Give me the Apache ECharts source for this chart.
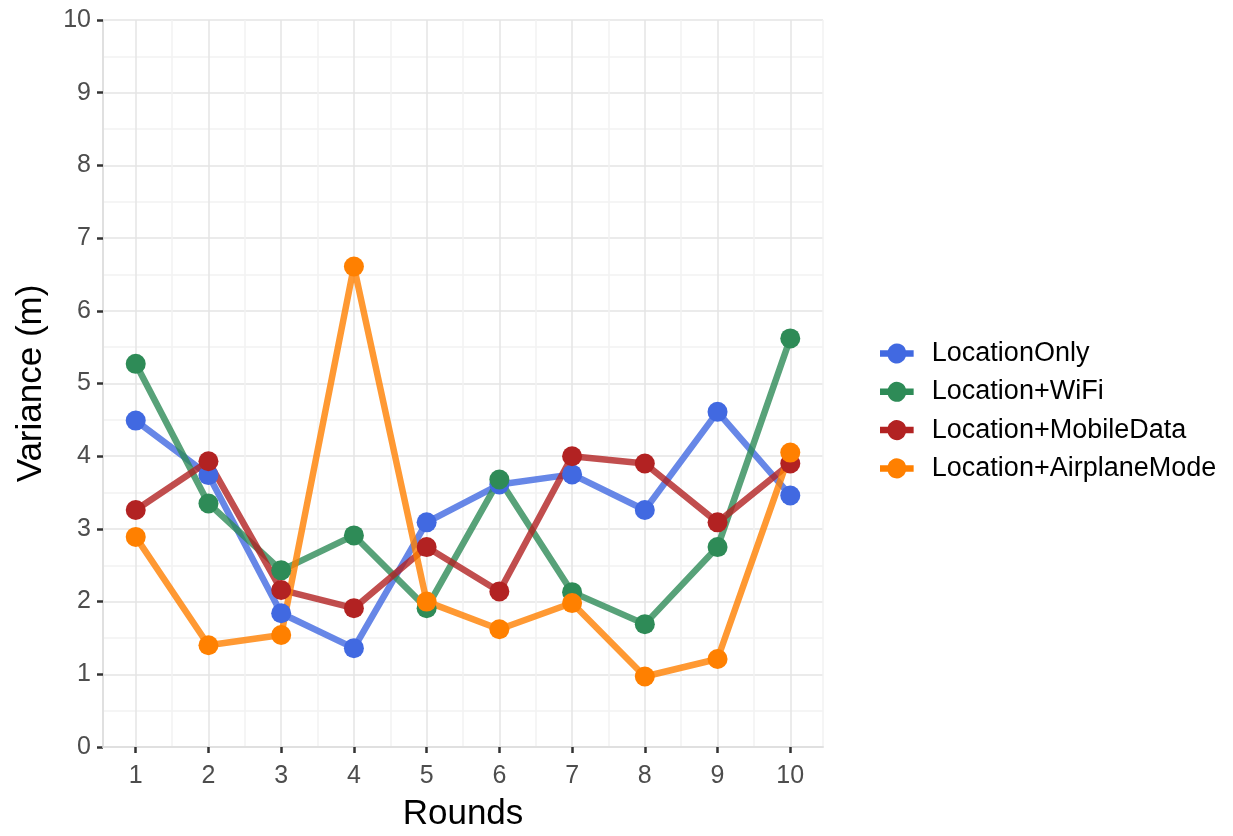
<!DOCTYPE html>
<html>
<head>
<meta charset="utf-8">
<script src="https://cdn.jsdelivr.net/npm/echarts@6/dist/echarts.min.js"></script>
<style>
html,body{margin:0;padding:0;background:#fff;}
#chart{width:1233px;height:836px;}
</style>
</head>
<body>
<div id="chart"></div>
<script>
const rounds = [1,2,3,4,5,6,7,8,9,10];
const seriesNames = ['LocationOnly','Location+WiFi','Location+MobileData','Location+AirplaneMode'];
const locationOnly = [4.49,3.74,1.84,1.36,3.09,3.61,3.75,3.26,4.61,3.46];
const locationWifi = [5.27,3.35,2.43,2.91,1.91,3.68,2.13,1.69,2.75,5.62];
const locationMobile = [3.26,3.93,2.16,1.91,2.75,2.14,4.00,3.90,3.09,3.90];
const locationAirplane = [2.89,1.40,1.54,6.61,2.00,1.62,1.98,0.97,1.21,4.05];
const yTicks = [0,1,2,3,4,5,6,7,8,9,10];

const values = [locationOnly, locationWifi, locationMobile, locationAirplane];
const colors = ['#4169E1','#2E8B57','#B22222','#FF8000'];

// ggplot-style continuous x range (5% expansion of 1..10)
const xPad = 0.45;
const xMin = rounds[0] - xPad, xMax = rounds[rounds.length - 1] + xPad;

const chart = echarts.init(document.getElementById('chart'));
const font = 'Liberation Sans, Arial, sans-serif';

const series = [];
values.forEach((vals, i) => {
  const data = rounds.map((r, j) => [r, vals[j]]);
  series.push({
    name: seriesNames[i], type: 'line', data: data, xAxisIndex: 0,
    symbol: 'circle', symbolSize: 20, showSymbol: false,
    lineStyle: {width: 6.5, color: colors[i], opacity: 0.8},
    itemStyle: {color: colors[i]},
    z: 2, silent: true, animation: false
  });
});
values.forEach((vals, i) => {
  const data = rounds.map((r, j) => [r, vals[j]]);
  series.push({
    name: seriesNames[i], type: 'scatter', data: data, xAxisIndex: 0,
    symbol: 'circle', symbolSize: 20,
    itemStyle: {color: colors[i], opacity: 1},
    z: 3, animation: false
  });
});

chart.setOption({
  animation: false,
  backgroundColor: '#ffffff',
  grid: {left: 103, right: 410, top: 20, bottom: 89, containLabel: false, outerBoundsMode: 'none'},
  xAxis: [{
    type: 'value', min: xMin, max: xMax, splitNumber: 10, minInterval: 1, maxInterval: 1,
    name: 'Rounds', nameLocation: 'middle', nameGap: 50,
    nameTextStyle: {fontFamily: font, fontSize: 35, color: '#000'},
    axisLine: {show: true, lineStyle: {color: '#e0e0e0', width: 2}},
    axisTick: {show: true, customValues: rounds, length: 6, lineStyle: {color: '#333', width: 2.5}},
    axisLabel: {customValues: rounds, fontFamily: font, fontSize: 25, color: '#4d4d4d', margin: 17},
    splitLine: {show: true, lineStyle: {color: '#e5e5e5', width: 1.5}},
    z: 1
  }, {
    // hidden helper axis, shifted half a step, for ggplot minor grid lines
    type: 'value', position: 'bottom', min: xMin - 0.5, max: xMax - 0.5,
    splitNumber: 10, minInterval: 1, maxInterval: 1,
    axisLine: {show: false}, axisTick: {show: false}, axisLabel: {show: false},
    splitLine: {show: true, lineStyle: {color: '#f2f2f2', width: 1.5}},
    z: 0
  }],
  yAxis: {
    type: 'value', min: 0, max: 10, interval: 1,
    name: 'Variance (m)', nameLocation: 'middle', nameGap: 54, nameRotate: 90,
    nameTextStyle: {fontFamily: font, fontSize: 35, color: '#000'},
    axisLine: {show: true, lineStyle: {color: '#e0e0e0', width: 2}},
    axisTick: {show: true, length: 6, lineStyle: {color: '#333', width: 2.5}},
    axisLabel: {fontFamily: font, fontSize: 25, color: '#4d4d4d', margin: 12},
    splitLine: {show: true, lineStyle: {color: '#e5e5e5', width: 1.5}},
    minorTick: {show: false, splitNumber: 2},
    minorSplitLine: {show: true, lineStyle: {color: '#f2f2f2', width: 1.5}}
  },
  legend: {
    data: seriesNames.map(n => ({name: n})),
    orient: 'vertical', left: 875, top: 335, padding: [5,5,5,5],
    itemWidth: 36, itemHeight: 20, itemGap: 11.3,
    textStyle: {fontFamily: font, fontSize: 27, color: '#000', padding: [0,0,0,12]},
    icon: 'path://M0,6.5 L8.4,6.5 A10,10 0 0 1 27.6,6.5 L36,6.5 L36,13.5 L27.6,13.5 A10,10 0 0 1 8.4,13.5 L0,13.5 Z'
  },
  series: series
});
</script>
</body>
</html>
